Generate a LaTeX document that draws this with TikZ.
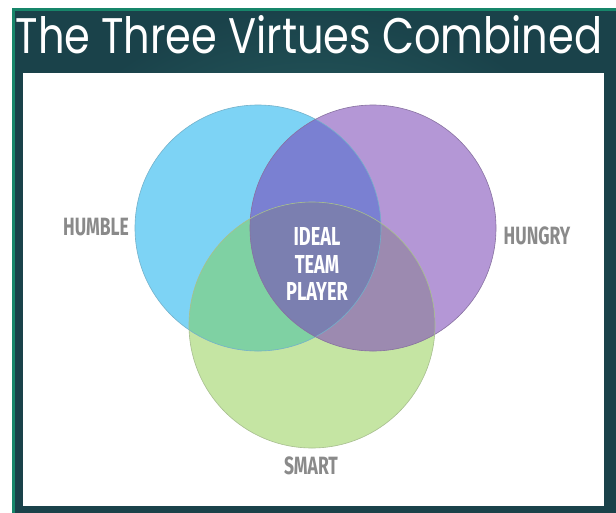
\documentclass[tikz,border=0pt]{standalone}
\usepackage{fontspec}
\setmainfont{Poppins}
\newfontfamily\titlefont[FakeStretch=0.83]{Poppins}
\newfontfamily\labelfont[FakeStretch=0.7]{Fira Sans}

\definecolor{frameGreen}{HTML}{17866A}
\definecolor{tealLight}{HTML}{2F6E6E}
\definecolor{tealDark}{HTML}{1A424A}
\definecolor{humbleC}{HTML}{7DD3F5}
\definecolor{hungryC}{HTML}{B497D6}
\definecolor{smartC}{HTML}{C5E5A3}
\definecolor{humHunC}{HTML}{7A80D2}
\definecolor{humSmaC}{HTML}{7FD1A3}
\definecolor{hunSmaC}{HTML}{9C8AB0}
\definecolor{idealC}{HTML}{7B7FB0}
\definecolor{labelGray}{HTML}{8A8A8A}

\tikzset{
    virtue/.style={font=\labelfont\bfseries\fontsize{25}{27}\selectfont, text=labelGray},
    ideal/.style={font=\labelfont\bfseries\fontsize{26}{27.5}\selectfont, text=white, align=center},
}

\begin{document}
\begin{tikzpicture}[x=1pt,y=-1pt]
    \useasboundingbox (0,0) rectangle (616,512);
    \fill[white] (0,0) rectangle (616,512);

    % Draw the frame and the white panel
    \shade[inner color=tealLight, outer color=tealDark] (12,8) rectangle (616,512);
    \draw[frameGreen, line width=3pt] (13.5,9.5) rectangle (618,514);
    \fill[white] (23,73) rectangle (604,506);

    % Title
    \node[text=white, font=\titlefont\fontsize{50}{55}\selectfont] (title) at (309,35) {The Three Virtues Combined};

    % Circle centres
    \coordinate (humble) at (258,228);
    \coordinate (hungry) at (373,228);
    \coordinate (smart) at (312,325);
    \def\rad{123pt}

    % Fill the circles
    \fill[humbleC] (humble) circle (\rad);
    \fill[hungryC] (hungry) circle (\rad);
    \fill[smartC] (smart) circle (\rad);

    % Fill the overlaps
    \begin{scope}
        \clip (humble) circle (\rad);
        \fill[humHunC] (hungry) circle (\rad);
        \fill[humSmaC] (smart) circle (\rad);
    \end{scope}
    \begin{scope}
        \clip (hungry) circle (\rad);
        \fill[hunSmaC] (smart) circle (\rad);
        \clip (smart) circle (\rad);
        \fill[idealC] (humble) circle (\rad);
    \end{scope}

    % Draw the outlines
    \draw[humbleC!80!black!90, line width=0.6pt] (humble) circle (\rad);
    \draw[hungryC!75!black, line width=0.6pt] (hungry) circle (\rad);
    \draw[smartC!80!black!90, line width=0.6pt] (smart) circle (\rad);

    % Labels
    \node[virtue] (humbleL) at (96,227) {HUMBLE};
    \node[virtue] (hungryL) at (537,236) {HUNGRY};
    \node[virtue] (smartL) at (311,466) {SMART};
    \node[ideal] (idealL) at (317,264) {IDEAL\\TEAM\\PLAYER};
\end{tikzpicture}
\end{document}
